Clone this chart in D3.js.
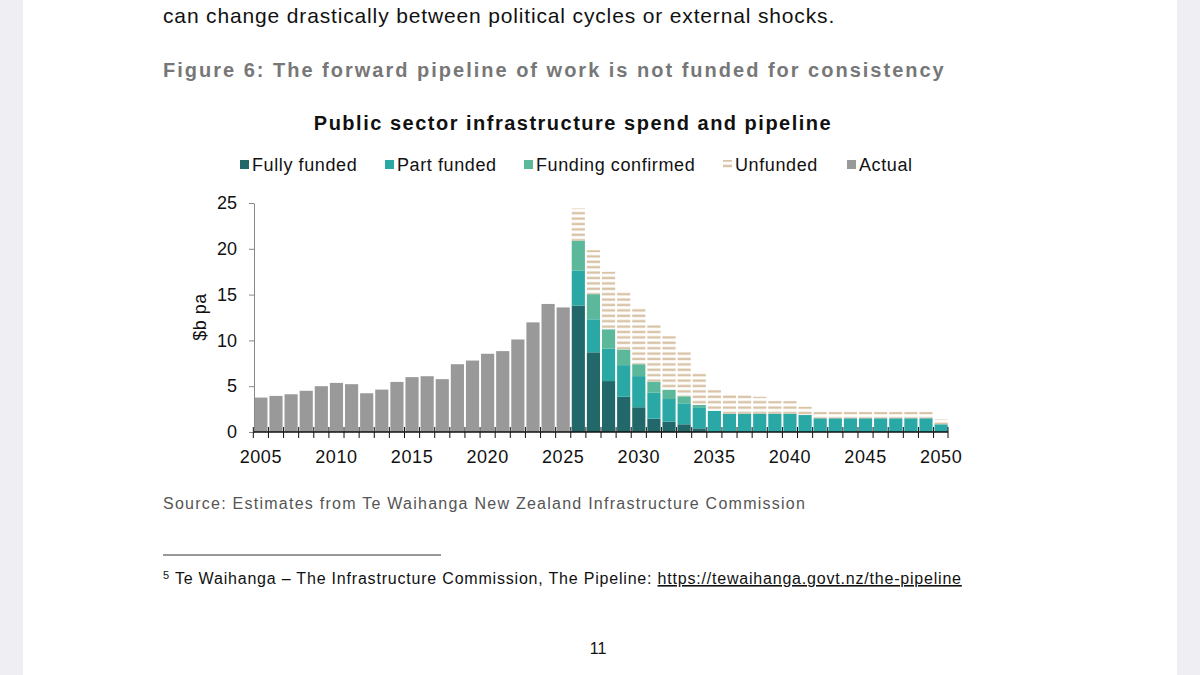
<!DOCTYPE html>
<html>
<head>
<meta charset="utf-8">
<script src="https://cdn.jsdelivr.net/npm/d3@7"></script>
<style>
  body { margin: 0; background: #efeff3; }
  svg { display: block; font-family: "Liberation Sans", Arial, sans-serif; }
</style>
</head>
<body>
<div id="chart"></div>
<script>
// years
var actualYears = d3.range(2005, 2026);
var pipeYears = d3.range(2026, 2051);
var allYears = actualYears.concat(pipeYears);

// actual spend, $b pa
var actual = [3.76, 3.94, 4.12, 4.5, 5.0, 5.36, 5.22, 4.23, 4.63, 5.47, 5.99,
  6.09, 5.77, 7.4, 7.8, 8.54, 8.83, 10.1, 11.97, 13.98, 13.6];

// pipeline segments, $b pa (2026..2050)
var fullyFunded = [13.8, 8.7, 5.56, 3.85, 2.7, 1.45, 1.13, 0.84, 0.4, 0, 0, 0, 0, 0, 0,
  0, 0, 0, 0, 0, 0, 0, 0, 0, 0];
var partFunded = [3.8, 3.6, 3.54, 3.45, 3.4, 2.85, 2.47, 2.29, 2.3, 2.3, 2.0, 2.0, 2.0, 2.0, 2.0,
  1.85, 1.5, 1.5, 1.5, 1.5, 1.5, 1.5, 1.5, 1.5, 0.84];
var fundingConfirmed = [3.3, 2.75, 2.1, 1.7, 1.3, 1.2, 1.0, 0.77, 0.25, 0, 0, 0, 0, 0, 0,
  0, 0, 0, 0, 0, 0, 0, 0, 0, 0];
var unfunded = [3.5, 4.8, 6.3, 6.4, 6.2, 6.2, 5.9, 4.9, 3.65, 2.35, 2.2, 2.0, 1.85, 1.4, 1.4,
  0.91, 0.7, 0.7, 0.7, 0.7, 0.7, 0.7, 0.7, 0.7, 0.56];

var yTicks = [0, 5, 10, 15, 20, 25];
var xLabels = [2005, 2010, 2015, 2020, 2025, 2030, 2035, 2040, 2045, 2050];

var width = 1200, height = 675;
var svg = d3.select("#chart").append("svg").attr("width", width).attr("height", height);

//white page
svg.append("rect").attr("x", 23).attr("y", 0).attr("width", 1154).attr("height", height).attr("fill", "#fff");

var defs = svg.append("defs");
var pat = defs.append("pattern").attr("id", "unf").attr("patternUnits", "userSpaceOnUse")
  .attr("width", 6).attr("height", 5.4);
pat.append("rect").attr("x", 0).attr("y", 1.4).attr("width", 6).attr("height", 2.4).attr("fill", "#d8c3a6");

//page text
svg.append("text").attr("x", 163).attr("y", 23).attr("font-size", 21).attr("fill", "#111")
  .attr("letter-spacing", 0.85)
  .text("can change drastically between political cycles or external shocks.");
svg.append("text").attr("x", 163).attr("y", 77).attr("font-size", 20).attr("font-weight", "bold")
  .attr("fill", "#777").attr("letter-spacing", 2.0)
  .text("Figure 6: The forward pipeline of work is not funded for consistency");
svg.append("text").attr("x", 573).attr("y", 130).attr("text-anchor", "middle").attr("font-size", 20)
  .attr("font-weight", "bold").attr("fill", "#111").attr("letter-spacing", 1.5)
  .text("Public sector infrastructure spend and pipeline");
svg.append("text").attr("x", 163).attr("y", 509).attr("font-size", 16).attr("fill", "#555")
  .attr("letter-spacing", 1.25)
  .text("Source: Estimates from Te Waihanga New Zealand Infrastructure Commission");
svg.append("line").attr("x1", 163).attr("x2", 441).attr("y1", 555).attr("y2", 555).attr("stroke", "#333");
var fn = svg.append("text").attr("x", 163).attr("y", 584).attr("font-size", 16).attr("fill", "#111")
  .attr("letter-spacing", 0.8);
fn.append("tspan").attr("font-size", 11).attr("dy", -5).text("5");
fn.append("tspan").attr("dy", 5).text(" Te Waihanga – The Infrastructure Commission, The Pipeline: ");
fn.append("tspan").attr("text-decoration", "underline").text("https://tewaihanga.govt.nz/the-pipeline");
svg.append("text").attr("x", 598).attr("y", 654).attr("text-anchor", "middle").attr("font-size", 16)
  .attr("fill", "#111").text("11");

//scales
var x = d3.scaleBand().domain(allYears).range([254, 948]).paddingInner(0.13).paddingOuter(0.02);
var y = d3.scaleLinear().domain([0, 25]).range([432, 203]);

var g = svg.append("g");
g.selectAll(".actual").data(actualYears).enter().append("rect")
  .attr("x", function(d) { return x(d); })
  .attr("width", x.bandwidth())
  .attr("y", function(d, i) { return y(actual[i]); })
  .attr("height", function(d, i) { return y(0) - y(actual[i]); })
  .attr("fill", "#999");

var series = [
  { vals: fullyFunded, fill: "#22676a" },
  { vals: partFunded, fill: "#2aa8a6" },
  { vals: fundingConfirmed, fill: "#5cb89b" },
  { vals: unfunded, fill: "url(#unf)" }
];
pipeYears.forEach(function(yr, i) {
  var base = 0;
  series.forEach(function(s) {
    var v = s.vals[i];
    if (v > 0) {
      g.append("rect").attr("x", x(yr)).attr("width", x.bandwidth())
        .attr("y", y(base + v)).attr("height", y(base) - y(base + v)).attr("fill", s.fill);
    }
    base += v;
  });
});

//axes
var yAxis = svg.append("g").attr("transform", "translate(254,0)")
  .call(d3.axisLeft(y).tickValues(yTicks).tickSize(5).tickSizeOuter(0));
yAxis.selectAll("text").attr("font-size", 18).attr("fill", "#111").attr("x", -17);
yAxis.select(".domain").attr("stroke", "#888");
yAxis.selectAll(".tick line").attr("stroke", "#888");

var xa = svg.append("g");
xa.append("line").attr("x1", 254).attr("x2", 948).attr("y1", 432).attr("y2", 432).attr("stroke", "#111").attr("stroke-width", 1.5);
var bounds = allYears.map(function(d) { return x(d) - x.step() * x.paddingInner() / 2; });
bounds.push(948);
xa.selectAll(".tk").data(bounds).enter().append("line")
  .attr("x1", function(d) { return d; }).attr("x2", function(d) { return d; })
  .attr("y1", 427).attr("y2", 438).attr("stroke", "#111");
xa.selectAll(".lb").data(xLabels).enter().append("text")
  .attr("x", function(d) { return x(d) + x.bandwidth() / 2; }).attr("y", 463)
  .attr("text-anchor", "middle").attr("font-size", 18).attr("letter-spacing", 0.6)
  .attr("fill", "#111").text(function(d) { return d; });

svg.append("text").attr("transform", "translate(206,317) rotate(-90)").attr("text-anchor", "middle")
  .attr("font-size", 18).attr("fill", "#111").attr("letter-spacing", 0.5).text("$b pa");

//legend
var legend = [
  { name: "Fully funded", fill: "#22676a", x: 240 },
  { name: "Part funded", fill: "#2aa8a6", x: 385 },
  { name: "Funding confirmed", fill: "#5cb89b", x: 524 },
  { name: "Unfunded", fill: "url(#unf)", x: 723 },
  { name: "Actual", fill: "#999", x: 847 }
];
var lg = svg.append("g").selectAll("g").data(legend).enter().append("g")
  .attr("transform", function(d) { return "translate(" + d.x + ",158)"; });
lg.append("rect").attr("width", 9).attr("height", 9).attr("y", 2).attr("fill", function(d) { return d.fill; });
lg.append("text").attr("x", 12).attr("y", 13).attr("font-size", 18).attr("fill", "#111")
  .attr("letter-spacing", 0.6).text(function(d) { return d.name; });
</script>
</blockquote>
</body>
</html>
